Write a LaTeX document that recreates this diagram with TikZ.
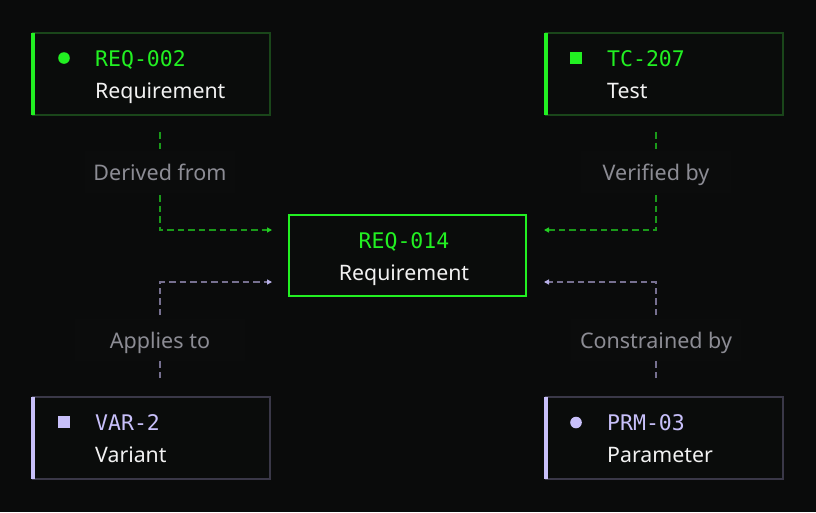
\documentclass[tikz,border=0pt]{standalone}
\usepackage{fontspec}
\setmainfont{Noto Sans}
\newfontfamily\monof{DejaVu Sans Mono}
\usetikzlibrary{arrows.meta}
\definecolor{bg}{HTML}{0A0B0B}
\definecolor{cardbg}{HTML}{0A0C0B}
\definecolor{lblbg}{HTML}{0B0C0C}
\definecolor{brightgreen}{HTML}{22F022}
\definecolor{darkgreen}{HTML}{1A461A}
\definecolor{lavender}{HTML}{C8C0FA}
\definecolor{darkgray}{HTML}{3A3848}
\definecolor{lblgray}{HTML}{8C8C94}
\definecolor{glink}{HTML}{1A9A1A}
\definecolor{garrow}{HTML}{22D022}
\definecolor{plink}{HTML}{767090}
\definecolor{parrow}{HTML}{B8B0E8}
\definecolor{subwhite}{HTML}{F2F2F2}
\begin{document}
\begin{tikzpicture}[x=1pt,y=-1pt,
  card/.style={draw, line width=2pt, fill=cardbg, minimum width=237pt, minimum height=82pt, inner sep=0pt},
  centercard/.style={draw=brightgreen, line width=2pt, fill=cardbg, minimum width=237pt, minimum height=81pt, inner sep=0pt},
  idtext/.style={font=\monof\fontsize{21.5}{24}\selectfont, anchor=base west, inner sep=0pt},
  subtext/.style={text=subwhite, font=\fontsize{21.3}{24}\selectfont, anchor=base west, inner sep=0pt},
  lbl/.style={fill=lblbg, text=lblgray, font=\fontsize{21.5}{24}\selectfont, minimum width=150pt, minimum height=42pt, inner sep=0pt, text height=21pt, text depth=5pt},
  greenlink/.style={draw=glink, line width=1.5pt, dash pattern=on 6.5pt off 4pt, -{Triangle[length=5pt,width=5pt,color=garrow]}},
  purplelink/.style={draw=plink, line width=1.5pt, dash pattern=on 6.5pt off 4pt, -{Triangle[length=5pt,width=5pt,color=parrow]}}
]
\useasboundingbox[fill=bg] (0,0) rectangle (816,512);

% cards
\node[card, draw=darkgreen] (A) at (151.5,74) {};
\node[card, draw=darkgreen] (B) at (664,74) {};
\node[centercard] (C) at (407.5,255.5) {};
\node[card, draw=darkgray] (D) at (151.5,438) {};
\node[card, draw=darkgray] (E) at (664,438) {};

% accent bars
\fill[brightgreen] ([xshift=-1pt,yshift=-1pt]A.north west) rectangle ([xshift=3pt,yshift=1pt]A.south west);
\fill[brightgreen] ([xshift=-1pt,yshift=-1pt]B.north west) rectangle ([xshift=3pt,yshift=1pt]B.south west);
\fill[lavender] ([xshift=-1pt,yshift=-1pt]D.north west) rectangle ([xshift=3pt,yshift=1pt]D.south west);
\fill[lavender] ([xshift=-1pt,yshift=-1pt]E.north west) rectangle ([xshift=3pt,yshift=1pt]E.south west);

% markers
\fill[brightgreen] (64,58) circle (5.8pt);
\fill[brightgreen] (570,52) rectangle (582,64);
\fill[lavender] (58,416) rectangle (70,428);
\fill[lavender] (576,422.5) circle (5.8pt);

% texts
\node[idtext, text=brightgreen] (At) at (95,66) {REQ-002};
\node[subtext] (As) at (95,98) {Requirement};
\node[idtext, text=brightgreen] (Bt) at (607,66) {TC-207};
\node[subtext] (Bs) at (607,98) {Test};
\node[idtext, text=lavender] (Dt) at (95,430) {VAR-2};
\node[subtext] (Ds) at (95,462) {Variant};
\node[idtext, text=lavender] (Et) at (607,430) {PRM-03};
\node[subtext] (Es) at (607,462) {Parameter};
\node[idtext, text=brightgreen, anchor=base] (Ct) at (404,248) {REQ-014};
\node[subtext, anchor=base] (Cs) at (404,280) {Requirement};

% connector coordinates
\coordinate (a1) at (160,132);
\coordinate (a2) at (160,230);
\coordinate (a3) at (272,230);
\coordinate (b1) at (656,132);
\coordinate (b2) at (656,230);
\coordinate (b3) at (544,230);
\coordinate (d1) at (160,378);
\coordinate (d2) at (160,282);
\coordinate (d3) at (272,282);
\coordinate (e1) at (656,378);
\coordinate (e2) at (656,282);
\coordinate (e3) at (544,282);

\draw[greenlink] (a1) -- (a2) -- (a3);
\draw[greenlink] (b1) -- (b2) -- (b3);
\draw[purplelink] (d1) -- (d2) -- (d3);
\draw[purplelink] (e1) -- (e2) -- (e3);

% labels
\node[lbl] (la) at (160,172) {Derived from};
\node[lbl] (lb) at (656,172) {Verified by};
\node[lbl, minimum width=170pt] (ld) at (160,340) {Applies to};
\node[lbl, minimum width=170pt] (le) at (656,340) {Constrained by};
\end{tikzpicture}
\end{document}
